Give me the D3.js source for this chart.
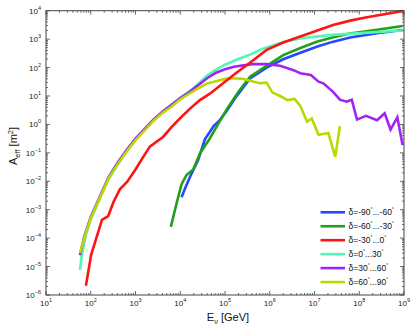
<!DOCTYPE html>
<html><head><meta charset="utf-8">
<script src="https://cdn.jsdelivr.net/npm/d3@7"></script>
<style>body{margin:0;background:#fff}svg{display:block;font-family:"Liberation Sans",Arial,sans-serif}</style>
</head><body><svg id="c" width="415" height="330"></svg>
<script>
// Energies [GeV] and effective areas [m^2]
const seriesNames = ["δ=-90","δ=-60","δ=-30","δ=0","δ=30","δ=60"];
const legendLo = ["-90","-60","-30","0","30","60"];
const legendHi = ["-60","-30","0","30","60","90"];
const colors = ["#2448ff","#22a01c","#ff1414","#52f7b4","#a024f4","#bcd800"];

const blueE = [1.07e4,1.32e4,1.66e4,2.51e4,3.55e4,5.62e4,7.76e4,1.12e5,1.78e5,3.63e5,8.5e5,2.0e6,5.0e6,1.12e7,2.5e7,6.2e7,2.5e8,9.3e8];
const blueA = [2.75e-3,6.3e-3,1.45e-2,5.6e-2,0.30,0.89,1.45,3.16,9.5,41.7,100,195,340,537,800,1150,1600,2090];

const greenE = [6170,8300,1.07e4,1.38e4,1.95e4,2.75e4,4.57e4,7.76e4,1.12e5,2.0e5,3.63e5,8.5e5,2.0e6,5.0e6,1.12e7,2.5e7,6.2e7,2.5e8,9.3e8];
const greenA = [2.5e-4,1.7e-3,7.9e-3,1.66e-2,2.6e-2,9.5e-2,0.32,1.35,3.55,14.1,48,115,275,500,813,1150,1580,2140,2880];

const redE = [78,102,126,178,245,324,447,660,1000,1410,2090,4170,6310,1.07e4,1.78e4,2.75e4,4.68e4,7.94e4,1.74e5,3.16e5,8.51e5,2.0e6,4.8e6,2.6e7,6.3e7,1.48e8,9.5e8];
const redA = [2.1e-6,2.6e-5,7.6e-5,4.4e-4,6.0e-4,1.9e-3,5.2e-3,9.8e-3,2.6e-2,6.3e-2,0.166,0.37,0.79,1.86,3.98,7.2,12.3,24,63,126,417,760,1230,3160,4470,5890,9800];

const cyanE = [57.5,63,79,100,158,251,398,631,1000,1585,2512,3981,6310,1e4,1.585e4,2.51e4,3.98e4,6.31e4,1e5,2.0e5,3.98e5,6.31e5,2.0e6,5.0e6,2.5e7,1.58e8,9.3e8];
const cyanA = [7.6e-6,2.5e-5,1.4e-4,4.5e-4,2.4e-3,1.2e-2,3.8e-2,0.112,0.29,0.63,1.41,2.75,4.8,8.7,14.5,26,52,85,126,200,302,437,794,1070,1410,1700,2000];

const purpleE = [57.5,71,100,158,251,398,631,1000,1585,2512,3981,6310,1e4,1.585e4,2.51e4,3.98e4,6.31e4,1e5,1.585e5,3.98e5,8.51e5,1.7e6,3.4e6,4.8e6,8.3e6,1.23e7,1.58e7,2.6e7,3.7e7,5.2e7,6.8e7,8.9e7,1.41e8,2.5e8,3.7e8,5.0e8,7.1e8,9.3e8];
const purpleA = [2.5e-5,1.12e-4,5.6e-4,2.8e-3,1.41e-2,4.5e-2,0.126,0.32,0.68,1.48,2.8,4.8,8.5,13.5,24,42,66,87,107,132,132,115,81,63,55,32,28,14,7.4,6.3,7.4,1.48,2.0,1.41,2.45,0.66,1.78,0.19];

const yellowE = [57.5,71,100,158,251,398,631,1000,1585,2512,3981,6310,1e4,1.585e4,2.51e4,3.98e4,6.31e4,1e5,1.585e5,2.51e5,3.98e5,6.03e5,8.51e5,1.15e6,1.7e6,2.5e6,3.6e6,4.8e6,6.8e6,8.7e6,1.23e7,2.04e7,2.9e7,3.7e7];
const yellowA = [2.95e-5,1e-4,5.0e-4,2.5e-3,1.26e-2,4.0e-2,0.112,0.28,0.60,1.32,2.5,4.2,7.6,12,18.6,27.5,33,40,42,40,33,28,29.5,13.2,10,7.2,7.9,4.5,1.26,1.62,0.43,0.50,0.072,0.87];

const xTickExps = [1,2,3,4,5,6,7,8,9];
const yTickExps = [-6,-5,-4,-3,-2,-1,0,1,2,3,4];

const seriesE = [blueE,greenE,redE,cyanE,purpleE,yellowE];
const seriesA = [blueA,greenA,redA,cyanA,purpleA,yellowA];
const drawOrder = [0,1,3,4,5,2];

const svg = d3.select("#c");
const L=46, R=404, T=10.7, B=295;
const x = d3.scaleLog().domain([1e1,1e9]).range([L,R]);
const y = d3.scaleLog().domain([1e-6,1e4]).range([B,T]);

svg.append("rect").attr("width",415).attr("height",330).attr("fill","#fff");

// minor & major ticks (inward, mirrored)
const g = svg.append("g").attr("stroke","#444").attr("stroke-width",0.8);
const xMinor=[], yMinor=[];
for(let e=1;e<9;e++) for(let m=2;m<=9;m++) xMinor.push(m*Math.pow(10,e));
for(let e=-6;e<4;e++) for(let m=2;m<=9;m++) yMinor.push(m*Math.pow(10,e));
xMinor.forEach(v=>{const px=x(v);
  g.append("line").attr("x1",px).attr("x2",px).attr("y1",B).attr("y2",B-2);
  g.append("line").attr("x1",px).attr("x2",px).attr("y1",T).attr("y2",T+2);});
yMinor.forEach(v=>{const py=y(v);
  g.append("line").attr("x1",L).attr("x2",L+2).attr("y1",py).attr("y2",py);
  g.append("line").attr("x1",R).attr("x2",R-2).attr("y1",py).attr("y2",py);});
xTickExps.forEach(e=>{const px=x(Math.pow(10,e));
  g.append("line").attr("x1",px).attr("x2",px).attr("y1",B).attr("y2",B-4);
  g.append("line").attr("x1",px).attr("x2",px).attr("y1",T).attr("y2",T+4);});
yTickExps.forEach(e=>{const py=y(Math.pow(10,e));
  g.append("line").attr("x1",L).attr("x2",L+4).attr("y1",py).attr("y2",py);
  g.append("line").attr("x1",R).attr("x2",R-4).attr("y1",py).attr("y2",py);});

// curves
const line = d3.line().x(d=>x(d[0])).y(d=>y(d[1]));
drawOrder.forEach(i=>{
  const pts = seriesE[i].map((e,k)=>[e,seriesA[i][k]]);
  svg.append("path").attr("d",line(pts)).attr("fill","none")
    .attr("stroke",colors[i]).attr("stroke-width",2.6).attr("stroke-linejoin","miter");
});

// frame
svg.append("rect").attr("x",L).attr("y",T).attr("width",R-L).attr("height",B-T)
  .attr("fill","none").attr("stroke","#444").attr("stroke-width",1);

// tick labels
const fmtExp = e => e<0 ? "\u2212"+Math.abs(e) : String(e);
xTickExps.forEach(e=>{
  const t = svg.append("text").attr("x",x(Math.pow(10,e))).attr("y",306)
    .attr("text-anchor","middle").attr("font-size",8).attr("fill","#222");
  t.append("tspan").text("10");
  t.append("tspan").attr("dy",-4).attr("font-size",5.5).text(fmtExp(e));
});
yTickExps.forEach(e=>{
  const t = svg.append("text").attr("x",41).attr("y",y(Math.pow(10,e))+3)
    .attr("text-anchor","end").attr("font-size",8).attr("fill","#222");
  t.append("tspan").text("10");
  t.append("tspan").attr("dy",-4).attr("font-size",5.5).text(fmtExp(e));
});

// axis titles
const xt = svg.append("text").attr("x",228).attr("y",321).attr("text-anchor","middle")
  .attr("font-size",11).attr("fill","#111");
xt.append("tspan").text("E");
xt.append("tspan").attr("dy",3).attr("font-size",7.5).text("ν");
xt.append("tspan").attr("dy",-3).text(" [GeV]");

const yt = svg.append("text").attr("transform","translate(17,146) rotate(-90)")
  .attr("text-anchor","middle").attr("font-size",11).attr("fill","#111");
yt.append("tspan").text("A");
yt.append("tspan").attr("dy",3).attr("font-size",7.5).text("eff");
yt.append("tspan").attr("dy",-3).text(" [m");
yt.append("tspan").attr("dy",-4).attr("font-size",7.5).text("2");
yt.append("tspan").attr("dy",4).text("]");

// legend
seriesNames.forEach((n,i)=>{
  const ly = 212.3 + i*13.95;
  svg.append("line").attr("x1",320.5).attr("x2",345).attr("y1",ly).attr("y2",ly)
    .attr("stroke",colors[i]).attr("stroke-width",2.6);
  const t = svg.append("text").attr("x",348.5).attr("y",ly+3).attr("font-size",8.5).attr("fill","#111");
  t.append("tspan").text("δ="+legendLo[i]);
  t.append("tspan").attr("dy",-4).attr("font-size",5).text("°");
  t.append("tspan").attr("dy",4).text("..."+legendHi[i]);
  t.append("tspan").attr("dy",-4).attr("font-size",5).text("°");
});
</script></body></html>
